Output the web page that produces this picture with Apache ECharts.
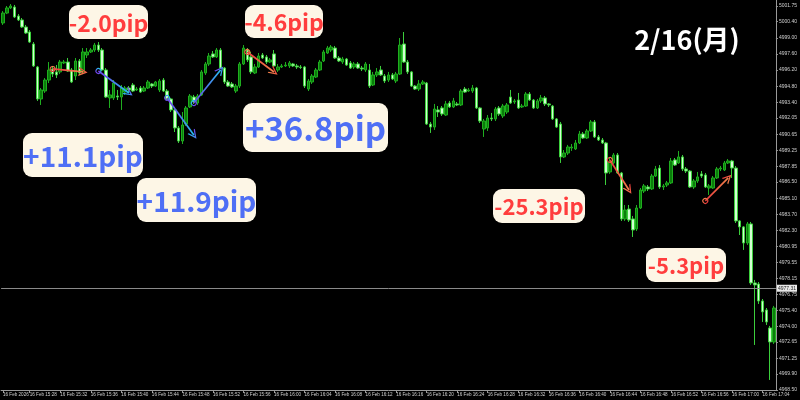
<!DOCTYPE html>
<html><head><meta charset="utf-8">
<script src="https://cdn.jsdelivr.net/npm/echarts@6/dist/echarts.min.js"></script>
<style>html,body{margin:0;padding:0;background:#000;}#c{width:800px;height:400px;}</style>
</head><body><div id="c"></div>
<script>
// ---- data ----
const startTime = '15:24:30'; // first 30-second bar
// [open, close, low, high]
const ohlc = [
[5000.28,5001.14,5000.11,5001.31],[5001.14,5001.58,5001.05,5001.75],[5001.58,5001.75,5001.49,5001.92],[5001.66,5000.80,5000.71,5001.84],
[5000.88,5000.54,5000.45,5001.05],[5000.54,4999.93,4999.85,5000.71],[4999.93,4999.41,4999.33,5000.11],[4999.50,4998.63,4998.55,4999.67],
[4998.46,4996.56,4996.47,4998.63],[4996.47,4993.70,4993.53,4996.56],[4993.70,4994.48,4993.18,4994.65],[4994.39,4995.34,4994.22,4995.51],
[4995.34,4996.21,4995.08,4996.90],[4996.30,4995.86,4995.60,4996.56],[4996.04,4995.78,4995.51,4996.64],[4996.04,4996.90,4995.86,4997.08],
[4996.82,4996.90,4996.73,4997.08],[4996.90,4996.12,4996.04,4997.25],[4996.21,4995.17,4995.08,4996.38],[4995.69,4996.99,4995.34,4997.25],
[4996.99,4995.95,4995.78,4997.16],[4996.04,4997.77,4995.95,4998.11],[4997.51,4997.77,4997.25,4998.11],[4997.77,4997.94,4997.68,4998.11],
[4997.94,4998.37,4997.77,4998.55],[4998.37,4997.94,4997.77,4998.63],[4997.94,4996.21,4996.12,4998.11],[4996.21,4993.87,4993.79,4996.38],
[4993.79,4994.05,4992.92,4994.48],[4993.79,4995.08,4993.61,4995.34],[4993.96,4993.87,4993.61,4994.48],[4993.87,4994.65,4992.75,4994.91],
[4994.30,4994.65,4994.05,4994.82],[4994.65,4994.48,4994.30,4994.82],[4994.91,4994.39,4994.30,4995.08],[4994.48,4994.56,4994.39,4994.74],
[4994.65,4994.30,4994.22,4994.82],[4994.39,4994.65,4994.30,4994.82],[4994.65,4995.17,4994.56,4995.34],[4995.00,4994.82,4994.65,4995.08],
[4994.82,4995.17,4994.74,4995.26],[4994.48,4995.26,4994.30,4995.43],[4995.34,4994.39,4994.30,4995.51],[4994.39,4993.70,4993.61,4994.56],
[4993.70,4992.75,4992.57,4993.79],[4992.75,4991.19,4990.84,4993.01],[4991.19,4990.06,4989.89,4991.36],[4990.06,4991.45,4989.80,4992.57],
[4991.53,4992.92,4991.36,4993.09],[4993.01,4993.96,4992.92,4994.13],[4993.87,4993.44,4993.27,4994.05],[4993.35,4993.96,4993.18,4994.13],
[4994.05,4996.04,4993.96,4996.21],[4995.95,4996.73,4995.78,4996.90],[4996.73,4997.42,4996.56,4997.68],[4997.60,4997.34,4997.25,4997.85],
[4997.34,4997.94,4997.25,4998.11],[4997.94,4996.38,4996.30,4998.11],[4996.38,4995.17,4995.00,4996.47],[4995.17,4994.82,4994.74,4995.34],
[4995.00,4994.74,4994.65,4995.17],[4994.39,4994.82,4994.22,4995.00],[4994.82,4996.73,4994.65,4996.90],[4996.73,4998.11,4996.64,4998.37],
[4997.94,4997.08,4996.90,4998.11],[4997.34,4996.04,4995.86,4997.77],[4995.95,4996.47,4995.86,4996.73],[4996.47,4997.42,4996.38,4997.68],
[4997.51,4997.25,4997.16,4997.68],[4997.34,4996.90,4996.73,4997.51],[4996.90,4997.08,4996.82,4997.25],[4997.60,4996.56,4996.47,4997.94],
[4996.21,4996.47,4996.04,4996.73],[4996.47,4996.56,4996.38,4996.73],[4996.56,4996.64,4996.47,4996.90],[4996.56,4996.82,4996.38,4996.99],
[4996.73,4996.56,4996.47,4996.82],[4996.56,4996.47,4996.30,4996.73],[4996.47,4996.43,4996.30,4996.64],[4996.47,4994.82,4994.65,4996.56],
[4994.56,4995.26,4994.39,4995.43],[4995.17,4995.69,4995.00,4995.86],[4995.60,4996.21,4995.51,4996.38],[4996.21,4996.90,4996.12,4997.08],
[4996.99,4997.77,4996.90,4997.94],[4997.68,4998.11,4997.60,4998.29],[4997.94,4998.20,4997.77,4998.37],[4998.11,4997.25,4997.16,4998.29],
[4997.25,4996.99,4996.90,4997.42],[4996.90,4997.16,4996.73,4997.34],[4997.16,4996.64,4996.56,4997.25],[4996.82,4996.38,4996.30,4996.99],
[4996.47,4996.73,4996.30,4996.90],[4996.73,4996.38,4996.30,4996.90],[4996.38,4996.30,4996.12,4996.56],[4996.21,4996.73,4996.04,4996.90],
[4996.21,4994.82,4994.65,4996.73],[4994.91,4995.78,4994.82,4996.04],[4995.78,4996.04,4995.60,4996.38],[4996.21,4995.78,4995.69,4996.56],
[4995.69,4995.26,4995.08,4995.86],[4995.34,4995.78,4995.17,4996.04],[4995.78,4995.43,4995.34,4995.95],[4995.26,4995.86,4995.08,4996.04],
[4995.86,4998.37,4995.78,4998.98],[4998.46,4996.90,4996.82,4999.50],[4996.90,4996.04,4995.86,4997.08],[4996.04,4994.82,4994.74,4996.12],
[4994.82,4994.56,4994.48,4994.91],[4994.56,4995.00,4994.39,4995.34],[4995.00,4995.17,4994.91,4995.34],[4995.08,4991.53,4991.45,4995.17],
[4991.53,4991.27,4990.76,4991.71],[4991.27,4992.83,4991.02,4993.27],[4992.75,4992.57,4992.14,4993.09],[4992.92,4992.40,4992.23,4993.09],
[4992.31,4993.27,4992.23,4993.53],[4993.35,4993.01,4992.92,4993.53],[4993.01,4993.53,4992.92,4993.79],[4993.27,4993.18,4993.09,4993.44],
[4993.18,4994.39,4993.09,4994.56],[4994.56,4994.30,4994.22,4994.74],[4994.39,4994.48,4994.30,4994.65],[4994.39,4994.65,4994.22,4994.91],
[4994.65,4992.92,4992.83,4994.74],[4992.92,4991.79,4991.62,4993.01],[4991.10,4991.79,4990.41,4991.97],[4991.19,4992.05,4990.93,4992.31],
[4992.05,4991.97,4991.79,4992.49],[4991.97,4992.83,4991.79,4993.01],[4992.92,4992.40,4992.23,4993.09],[4992.23,4993.09,4992.05,4993.27],
[4992.57,4993.18,4992.40,4993.35],[4993.87,4993.35,4993.27,4994.48],[4993.44,4993.53,4993.27,4993.70],[4993.61,4992.92,4992.83,4994.22],
[4993.01,4993.09,4992.92,4993.27],[4993.09,4994.13,4993.01,4994.30],[4994.13,4993.61,4993.53,4994.30],[4993.61,4992.92,4992.83,4993.70],
[4992.92,4993.53,4992.83,4993.70],[4993.53,4993.79,4993.35,4994.05],[4993.79,4993.27,4993.09,4993.96],[4993.27,4993.18,4993.01,4993.35],
[4993.09,4991.97,4991.88,4993.18],[4991.97,4991.27,4991.19,4992.05],[4991.53,4988.68,4988.16,4991.71],[4988.68,4989.02,4988.59,4989.28],
[4989.02,4989.54,4988.85,4989.72],[4989.46,4989.54,4989.20,4989.80],[4989.37,4989.89,4989.28,4990.15],[4989.89,4990.67,4989.80,4990.93],
[4990.67,4990.32,4990.24,4990.84],[4990.32,4990.93,4990.24,4991.10],[4990.93,4991.71,4990.84,4991.88],[4991.71,4990.41,4990.32,4991.88],
[4990.41,4990.15,4990.06,4990.58],[4990.15,4989.89,4989.80,4990.32],[4989.89,4987.29,4986.25,4989.98],[4987.38,4988.24,4987.21,4988.59],
[4988.16,4988.85,4988.07,4989.02],[4988.85,4987.29,4987.21,4989.02],[4987.29,4983.31,4983.14,4987.38],[4983.31,4984.09,4983.14,4984.52],
[4984.17,4983.22,4983.05,4984.52],[4983.31,4982.36,4981.75,4983.57],[4982.44,4984.26,4982.27,4984.52],[4984.26,4985.82,4984.17,4985.99],
[4985.73,4986.17,4985.56,4986.34],[4986.08,4985.91,4985.73,4986.25],[4985.91,4987.03,4985.82,4987.21],[4987.03,4987.64,4986.95,4987.90],
[4987.72,4986.08,4985.91,4987.98],[4986.08,4986.17,4985.82,4986.34],[4986.25,4986.43,4986.08,4986.60],[4986.43,4988.33,4986.34,4988.59],
[4988.42,4987.98,4987.90,4988.59],[4988.16,4988.68,4988.07,4989.20],[4988.68,4987.64,4987.46,4988.85],[4987.64,4987.46,4987.29,4987.81],
[4987.46,4986.08,4985.99,4987.55],[4986.08,4986.60,4985.91,4986.77],[4986.60,4986.95,4986.43,4987.38],[4987.21,4987.03,4986.86,4987.46],
[4987.12,4986.08,4985.99,4987.29],[4985.99,4986.17,4985.39,4986.34],[4985.99,4986.86,4985.91,4987.03],[4986.86,4987.64,4986.77,4987.81],
[4987.64,4987.72,4987.46,4987.90],[4987.55,4988.16,4987.46,4988.33],[4988.16,4988.33,4988.07,4988.50],[4988.33,4987.72,4986.86,4988.42],
[4987.72,4983.14,4982.96,4987.90],[4983.14,4982.62,4981.92,4983.22],[4982.62,4981.23,4980.63,4982.70],[4981.23,4982.88,4981.06,4983.05],
[4982.88,4977.77,4977.60,4983.05],[4977.77,4977.60,4972.40,4978.03],[4977.68,4976.21,4975.95,4977.85],[4976.21,4975.26,4974.39,4976.38],
[4975.43,4974.39,4974.13,4975.60],[4973.87,4972.66,4969.37,4974.05],[4972.66,4975.60,4972.49,4975.78]
];
const yTickLabels = [5001.75,5000.40,4999.00,4997.60,4996.20,4994.80,4993.40,4992.05,4990.65,4989.25,4987.85,4986.50,4985.10,4983.70,4982.30,4980.95,4979.55,4978.15,4976.75,4975.40,4974.00,4972.65,4971.25,4969.90,4968.50];
const currentPrice = 4977.31;
// arrows: [[startIndex, startPrice], [endIndex, endPrice]]
const redArrows = [
  [[12.5,4996.30],[20.6,4996.04]],
  [[63.6,4997.77],[70.6,4996.04]],
  [[158.7,4988.42],[164.2,4985.82]],
  [[184.0,4984.87],[189.8,4986.86]]
];
const blueArrows = [
  [[25.3,4996.12],[33.4,4994.22]],
  [[42.8,4993.79],[49.5,4990.58]],
  [[50.1,4993.35],[57.4,4996.21]]
];
const pipLabels = [
  {text:'-2.0pip', kind:'red'}, {text:'-4.6pip', kind:'red'},
  {text:'+11.1pip', kind:'blue'}, {text:'+11.9pip', kind:'blue'},
  {text:'+36.8pip', kind:'blue'}, {text:'-25.3pip', kind:'red'},
  {text:'-5.3pip', kind:'red'}
];
const dateLabel = '2/16(月)';

// categories: 30-second bars
const categories = [];
(function(){
  let [h,m,s] = startTime.split(':').map(Number);
  let t = h*3600+m*60+s;
  for (let i=0;i<ohlc.length;i++){
    const tt=t+i*30; const hh=Math.floor(tt/3600), mm=Math.floor(tt%3600/60), ss=tt%60;
    categories.push(String(hh).padStart(2,'0')+':'+String(mm).padStart(2,'0')+':'+String(ss).padStart(2,'0'));
  }
})();
function showTick(i){ const c=categories[i]; return i===0 || c.endsWith(':00') && (parseInt(c.split(':')[1])%4===0); }

const chart = echarts.init(document.getElementById('c'));
const arrowHead = 'path://M0,10 L5,0 L10,10 L8.4,10 L5,3.2 L1.6,10 Z';
const ring = 'path://M5,0 A5,5 0 1,1 4.99,0 Z M5,1.8 A3.2,3.2 0 1,0 5.01,1.8 Z';
function arrowSeries(list, c1, c2){
  return list.map(a => ({
    coords: a,
    lineStyle: {color: new echarts.graphic.LinearGradient(0,0,1,0,[{offset:0,color:c1},{offset:1,color:c2}]), width:1.7, type:'solid', opacity:1}
  }));
}
// label boxes (positions in px)
const boxes = [
  {x:69,y:5,w:79,h:34,fs:23},{x:245,y:5,w:78,h:33,fs:23},
  {x:23,y:133,w:120,h:44,fs:28},{x:137,y:178,w:119,h:44,fs:28},
  {x:243,y:103,w:145,h:49,fs:33},{x:493,y:189,w:92,h:34,fs:22},
  {x:646,y:248,w:80,h:34,fs:22}
];
const graphics = [];
pipLabels.forEach((p,i)=>{
  const b=boxes[i];
  graphics.push({type:'rect',shape:{x:b.x,y:b.y,width:b.w,height:b.h,r:9},style:{fill:'#fdf6e6'},z:100});
  graphics.push({type:'text',x:b.x+b.w/2,y:b.y+b.h/2+1,style:{text:p.text,fill:p.kind==='red'?'#ff3d3d':'#4f6ff5',font:'bold '+b.fs+'px "Noto Sans CJK JP", "Noto Sans", sans-serif',align:'center',verticalAlign:'middle'},z:101});
});
graphics.push({type:'text',x:687,y:40,style:{text:dateLabel,fill:'#ffffff',font:'bold 27px "Noto Sans CJK JP", sans-serif',align:'center',verticalAlign:'middle'},z:101});

chart.setOption({
  backgroundColor:'#000000',
  animation:false,
  grid:{left:0,right:20,top:0,bottom:10},
  xAxis:{
    type:'category', data:categories, boundaryGap:true,
    axisLine:{show:true,lineStyle:{color:'#9a9a9a',width:1}},
    axisTick:{show:true,alignWithLabel:true,interval:(i)=>showTick(i),length:3,lineStyle:{color:'#9a9a9a'}},
    axisLabel:{show:true,interval:(i)=>showTick(i),showMinLabel:true,hideOverlap:false,align:'left',margin:2,fontSize:4.6,color:'#d0d0d0',fontFamily:'Liberation Sans',
      formatter:(v,i)=> i===0 ? '16 Feb 2026' : '16 Feb '+v.slice(0,5)},
    splitLine:{show:false}
  },
  yAxis:{
    type:'value', position:'right', min:4968.50, max:5002.27, scale:true,
    axisLine:{show:true,lineStyle:{color:'#9a9a9a',width:1}},
    axisTick:{show:true,length:2,customValues:yTickLabels,lineStyle:{color:'#9a9a9a'}},
    axisLabel:{show:true,customValues:yTickLabels,margin:3,fontSize:5,color:'#d0d0d0',fontFamily:'Liberation Sans',formatter:v=>v.toFixed(2)},
    splitLine:{show:false}
  },
  series:[
    {type:'candlestick', data:ohlc, barWidth:3,
     itemStyle:{color:'#0a7d0a',color0:'#d2ffd2',borderColor:'#1fae1f',borderColor0:'#3ccf3c',borderWidth:1},
     markLine:{silent:true,symbol:['none','none'],
       data:[{yAxis:currentPrice}],
       lineStyle:{color:'#8a8a8a',width:1,type:'solid'},
       label:{show:true,position:'end',formatter:currentPrice.toFixed(2),fontSize:5,color:'#222',backgroundColor:'#e8e8e8',padding:[1,1],distance:1,fontFamily:'Liberation Sans'}
     }
    },
    {type:'lines', coordinateSystem:'cartesian2d', z:20, symbol:[ring,arrowHead], symbolSize:[6,9],
     lineStyle:{opacity:1,width:1.7},
     data:arrowSeries(redArrows,'#e8343a','#f58a4e')},
    {type:'lines', coordinateSystem:'cartesian2d', z:20, symbol:[ring,arrowHead], symbolSize:[6,9],
     lineStyle:{opacity:1,width:1.7},
     data:arrowSeries(blueArrows,'#7a32e6','#1fc8f2')}
  ],
  graphic:graphics
});
</script></body></html>
